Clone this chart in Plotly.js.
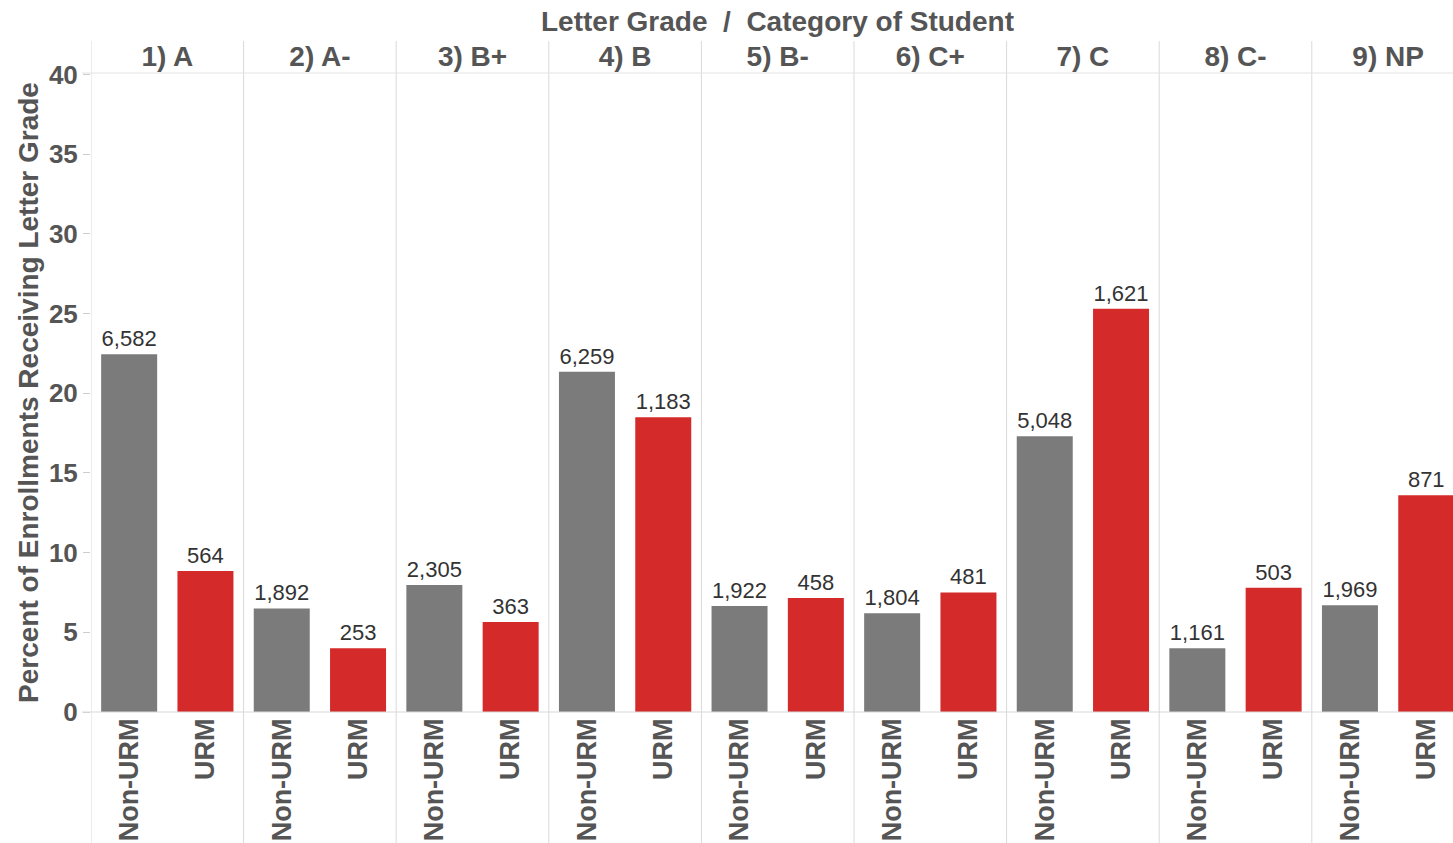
<!DOCTYPE html>
<html>
<head>
<meta charset="utf-8">
<script src="https://cdn.plot.ly/plotly-3.0.1.min.js"></script>
<style>html,body{margin:0;padding:0;background:#fff;}#chart{width:1453px;height:843px;}</style>
</head>
<body>
<div id="chart"></div>
<script>
// ---- data ----
const grades = ["1) A", "2) A-", "3) B+", "4) B", "5) B-", "6) C+", "7) C", "8) C-", "9) NP"];
const studentCats = ["Non-URM", "URM"];
const nonUrmPct = [22.45, 6.5, 7.97, 21.35, 6.65, 6.2, 17.3, 4.0, 6.7];
const urmPct = [8.85, 4.0, 5.65, 18.5, 7.15, 7.5, 25.3, 7.8, 13.6];
const nonUrmCount = [6582, 1892, 2305, 6259, 1922, 1804, 5048, 1161, 1969];
const urmCount = [564, 253, 363, 1183, 458, 481, 1621, 503, 871];
const yTicks = [0, 5, 10, 15, 20, 25, 30, 35, 40];
const yTitle = "Percent of Enrollments Receiving Letter Grade";
const headerTitle = "Letter Grade  /  Category of Student";

// ---- layout helpers ----
const FONT = "Liberation Sans, Arial, sans-serif";
const nonX = grades.map((g, i) => 2 * i);
const urmX = grades.map((g, i) => 2 * i + 1);
const allX = [], allText = [];
grades.forEach((g, i) => { allX.push(2 * i, 2 * i + 1); allText.push(studentCats[0], studentCats[1]); });

const barW = 0.734;
const textFont = {family: FONT, size: 22, color: "#333"};

const traces = [
  {type: "bar", name: studentCats[0], x: nonX, y: nonUrmPct, width: barW,
   customdata: nonUrmCount, texttemplate: "%{customdata:,}", textposition: "outside",
   constraintext: "none", cliponaxis: true, textfont: textFont,
   marker: {color: "#7b7b7b", line: {width: 0}}, hoverinfo: "skip"},
  {type: "bar", name: studentCats[1], x: urmX, y: urmPct, width: barW,
   customdata: urmCount, texttemplate: "%{customdata:,}", textposition: "outside",
   constraintext: "none", cliponaxis: true, textfont: textFont,
   marker: {color: "#d42a2a", line: {width: 0}}, hoverinfo: "skip", xaxis: "x2"}
];

const W = 1453, H = 843;
const mL = 91, mT = 73, mB = 131, mR = 0;
const plotH = H - mT - mB;
const pxY = p => (H - mB - p) / plotH; // pixel y -> paper y

const shapes = [];
for (let i = 0; i < grades.length; i++) {
  shapes.push({type: "line", xref: "x", yref: "paper", x0: 2 * i - 0.5, x1: 2 * i - 0.5,
    y0: pxY(H), y1: pxY(41), line: {color: "#d9d9d9", width: 1}, layer: "above"});
}
shapes.push({type: "line", xref: "paper", yref: "paper", x0: -9 / (W - mL), x1: 1, y0: 1, y1: 1,
  line: {color: "#e3e3e3", width: 1}});
shapes.push({type: "line", xref: "paper", yref: "paper", x0: -9 / (W - mL), x1: 1, y0: 0, y1: 0,
  line: {color: "#d9d9d9", width: 1}, layer: "above"});

const xr = [-0.5, -0.5 + (W - mL - mR) / 76.3];

const layout = {
  width: W, height: H,
  margin: {l: mL, r: mR, t: mT, b: mB, pad: 0},
  paper_bgcolor: "#fff", plot_bgcolor: "#fff",
  showlegend: false, barmode: "overlay",
  font: {family: FONT, color: "#555"},
  xaxis: {type: "linear", range: xr, tickmode: "array", tickvals: allX, ticktext: allText,
    tickangle: -90, ticks: "", showgrid: false, zeroline: false, showline: false,
    tickfont: {family: FONT, size: 27, color: "#555", weight: "bold"}, fixedrange: true},
  xaxis2: {type: "linear", overlaying: "x", side: "top", range: xr, tickmode: "array",
    tickvals: grades.map((g, i) => 2 * i + 0.5), ticktext: grades, ticks: "",
    showgrid: false, zeroline: false, showline: false,
    tickfont: {family: FONT, size: 28, color: "#555", weight: "bold"}},
  yaxis: {range: [0, 40.1], tickvals: yTicks, ticks: "outside",
    ticklen: 7, tickcolor: "#ccc", showgrid: false, zeroline: false, showline: false,
    tickfont: {family: FONT, size: 26, color: "#555", weight: "bold"},
    title: {text: yTitle, standoff: 2, font: {family: FONT, size: 28, color: "#555", weight: "bold"}}},
  annotations: [{xref: "paper", yref: "paper", x: (777 - mL) / (W - mL), y: pxY(22),
    xanchor: "center", yanchor: "middle", showarrow: false, text: headerTitle,
    font: {family: FONT, size: 28, color: "#555", weight: "bold"}}],
  shapes: shapes
};

Plotly.newPlot("chart", traces, layout, {staticPlot: true, displayModeBar: false});
</script>
</body>
</html>
